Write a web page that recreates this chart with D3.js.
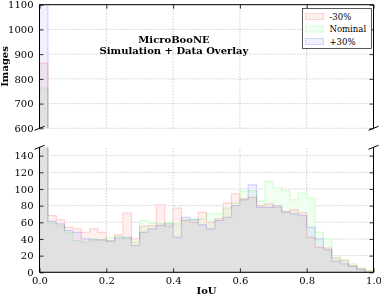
<!DOCTYPE html>
<html>
<head>
<meta charset="utf-8">
<script src="https://cdn.jsdelivr.net/npm/d3@7/dist/d3.min.js"></script>
<style>
  body { margin: 0; background: #fff; }
  svg text { font-family: "DejaVu Serif", serif; }
</style>
</head>
<body>
<div id="chart"></div>
<script>
// IoU bin edges (40 bins of 0.025)
var binEdges = [0.000, 0.025, 0.050, 0.075, 0.100, 0.125, 0.150, 0.175, 0.200, 0.225,
                0.250, 0.275, 0.300, 0.325, 0.350, 0.375, 0.400, 0.425, 0.450, 0.475,
                0.500, 0.525, 0.550, 0.575, 0.600, 0.625, 0.650, 0.675, 0.700, 0.725,
                0.750, 0.775, 0.800, 0.825, 0.850, 0.875, 0.900, 0.925, 0.950, 0.975, 1.000];

// images per bin
var minus30 = [864, 68, 63, 54, 52, 48, 52, 48, 38, 45,
               71, 40, 55, 56, 81, 55, 77, 62, 60, 72,
               60, 64, 83, 94, 88, 90, 80, 82, 78, 73,
               75, 71, 42, 30, 29, 17, 14, 8, 4, 1];
var nominal = [763, 59, 55, 47, 38, 36, 40, 39, 42, 43,
               40, 36, 62, 59, 58, 60, 58, 63, 64, 64,
               70, 70, 77, 83, 97, 98, 85, 109, 101, 98,
               87, 95, 89, 48, 40, 20, 15, 10, 5, 2];
var plus30  = [1130, 61, 58, 50, 48, 40, 39, 39, 37, 41,
               42, 32, 48, 52, 56, 58, 42, 66, 63, 57,
               52, 62, 66, 80, 87, 105, 78, 78, 80, 72,
               70, 68, 54, 40, 27, 13, 10, 7, 3, 0];

var seriesNames = ["-30%", "Nominal", "+30%"];
// pale tints, combined with multiply so the overlap turns grey
var seriesFills = ["#fff0f0", "#f0fff0", "#f0f0ff"];
var seriesEdges = ["#ffd2d2", "#d2ffd2", "#d2d2ff"];

var topTicks = [600, 700, 800, 900, 1000, 1100];
var bottomTicks = [0, 20, 40, 60, 80, 100, 120, 140];
var xTicks = [0.0, 0.2, 0.4, 0.6, 0.8, 1.0];

var W = 381, H = 296;
var left = 39.5, right = 373.5;
var topPanel = { top: 4.7, bottom: 128.3 };
var botPanel = { top: 147.3, bottom: 272.3 };

var svg = d3.select("#chart").append("svg")
  .attr("width", W)
  .attr("height", H);

svg.append("rect").attr("width", W).attr("height", H).attr("fill", "#fff");

var x = d3.scaleLinear().domain([0, 1]).range([left, right]);
var yTop = d3.scaleLinear().domain([600, 1100]).range([topPanel.bottom, topPanel.top]);
var yBot = d3.scaleLinear().domain([0, 150]).range([botPanel.bottom, botPanel.top]);

var defs = svg.append("defs");
defs.append("clipPath").attr("id", "clipTop").append("rect")
  .attr("x", left).attr("y", topPanel.top)
  .attr("width", right - left).attr("height", topPanel.bottom - topPanel.top);
defs.append("clipPath").attr("id", "clipBot").append("rect")
  .attr("x", left).attr("y", botPanel.top)
  .attr("width", right - left).attr("height", botPanel.bottom - botPanel.top);

var allSeries = [minus30, nominal, plus30];

function drawPanel(yScale, ticks, clipId, isBottom) {
  var g = svg.append("g");

  // grid
  g.selectAll(".hgrid").data(ticks).enter().append("line")
    .attr("x1", left).attr("x2", right)
    .attr("y1", d => yScale(d)).attr("y2", d => yScale(d))
    .attr("stroke", "#999").attr("stroke-width", 0.7)
    .attr("stroke-dasharray", "1,2");
  g.selectAll(".vgrid").data(xTicks.slice(1, -1)).enter().append("line")
    .attr("x1", d => x(d)).attr("x2", d => x(d))
    .attr("y1", yScale.range()[0]).attr("y2", yScale.range()[1])
    .attr("stroke", "#999").attr("stroke-width", 0.7)
    .attr("stroke-dasharray", "1,2");

  // histograms (stepfilled)
  var line = d3.line()
    .curve(d3.curveStepAfter)
    .x(d => x(d[0]))
    .y(d => yScale(d[1]));

  var hg = g.append("g").attr("clip-path", "url(#" + clipId + ")");
  allSeries.forEach(function (vals, k) {
    var pts = [[binEdges[0], 0]];
    binEdges.forEach(function (e, i) {
      pts.push([e, vals[Math.min(i, vals.length - 1)]]);
    });
    pts.push([binEdges[binEdges.length - 1], 0]);
    hg.append("path")
      .attr("d", line(pts) + "Z")
      .attr("fill", seriesFills[k])
      .attr("stroke", seriesEdges[k])
      .attr("stroke-width", 1.2)
      .style("mix-blend-mode", "multiply");
  });

  // axes
  var yAxis = d3.axisLeft(yScale).tickValues(ticks).tickSize(-4).tickPadding(6)
    .tickFormat(d3.format("d"));
  var ya = g.append("g").attr("transform", `translate(${left},0)`).call(yAxis);
  var yr = g.append("g").attr("transform", `translate(${right},0)`)
    .call(d3.axisRight(yScale).tickValues(ticks).tickSize(-4).tickFormat(""));
  [ya, yr].forEach(function (a) {
    a.select(".domain").remove();
    a.selectAll("line").attr("stroke", "#000").attr("stroke-width", 0.8);
    a.selectAll("text").attr("font-size", "10px").attr("fill", "#000");
  });

  // spines
  g.append("line").attr("x1", left).attr("x2", left)
    .attr("y1", yScale.range()[0]).attr("y2", yScale.range()[1])
    .attr("stroke", "#000").attr("stroke-width", 1);
  g.append("line").attr("x1", right).attr("x2", right)
    .attr("y1", yScale.range()[0]).attr("y2", yScale.range()[1])
    .attr("stroke", "#000").attr("stroke-width", 1);

  if (isBottom) {
    var xa = g.append("g").attr("transform", `translate(0,${botPanel.bottom})`)
      .call(d3.axisBottom(x).tickValues(xTicks).tickSize(-4).tickPadding(5)
        .tickFormat(d3.format(".1f")));
    xa.select(".domain").remove();
    xa.selectAll("line").attr("stroke", "#000").attr("stroke-width", 0.8);
    xa.selectAll("text").attr("font-size", "10px").attr("fill", "#000");
    g.append("line").attr("x1", left).attr("x2", right)
      .attr("y1", botPanel.bottom).attr("y2", botPanel.bottom)
      .attr("stroke", "#000").attr("stroke-width", 1);
  } else {
    var xt = g.append("g").attr("transform", `translate(0,${topPanel.top})`)
      .call(d3.axisTop(x).tickValues(xTicks).tickSize(-4).tickFormat(""));
    xt.select(".domain").remove();
    xt.selectAll("line").attr("stroke", "#000").attr("stroke-width", 0.8);
    g.append("line").attr("x1", left).attr("x2", right)
      .attr("y1", topPanel.top).attr("y2", topPanel.top)
      .attr("stroke", "#000").attr("stroke-width", 1);
  }
}

drawPanel(yTop, topTicks, "clipTop", false);
drawPanel(yBot, bottomTicks, "clipBot", true);

// break marks
var dx = 5, dy = 2;
[left, right].forEach(function (px) {
  svg.append("line")
    .attr("x1", px - dx).attr("y1", topPanel.bottom + dy)
    .attr("x2", px + dx).attr("y2", topPanel.bottom - dy)
    .attr("stroke", "#000").attr("stroke-width", 1);
  svg.append("line")
    .attr("x1", px - dx).attr("y1", botPanel.top + dy)
    .attr("x2", px + dx).attr("y2", botPanel.top - dy)
    .attr("stroke", "#000").attr("stroke-width", 1);
});

// labels
svg.append("text")
  .attr("transform", `translate(8,${(topPanel.top + topPanel.bottom) / 2}) rotate(-90)`)
  .attr("text-anchor", "middle")
  .attr("font-size", "10px").attr("font-weight", "bold")
  .text("Images");

svg.append("text")
  .attr("x", (left + right) / 2).attr("y", 294)
  .attr("text-anchor", "middle")
  .attr("font-size", "10px").attr("font-weight", "bold")
  .text("IoU");

svg.append("text")
  .attr("x", 174).attr("y", 43)
  .attr("text-anchor", "middle")
  .attr("font-size", "10px").attr("font-weight", "bold")
  .text("MicroBooNE");
svg.append("text")
  .attr("x", 174).attr("y", 54)
  .attr("text-anchor", "middle")
  .attr("font-size", "10px").attr("font-weight", "bold")
  .text("Simulation + Data Overlay");

// legend
var legend = svg.append("g").attr("transform", "translate(302.5,8.5)");
legend.append("rect")
  .attr("width", 69).attr("height", 40)
  .attr("fill", "#fff").attr("stroke", "#333").attr("stroke-width", 0.8);
seriesNames.forEach(function (name, k) {
  var ly = 6 + k * 12.5;
  legend.append("rect")
    .attr("x", 3).attr("y", ly - 1)
    .attr("width", 18).attr("height", 6)
    .attr("fill", seriesFills[k])
    .attr("stroke", seriesEdges[k]);
  legend.append("text")
    .attr("x", 27).attr("y", ly + 5)
    .attr("font-size", "8.5px")
    .text(name);
});
</script>
</body>
</html>
